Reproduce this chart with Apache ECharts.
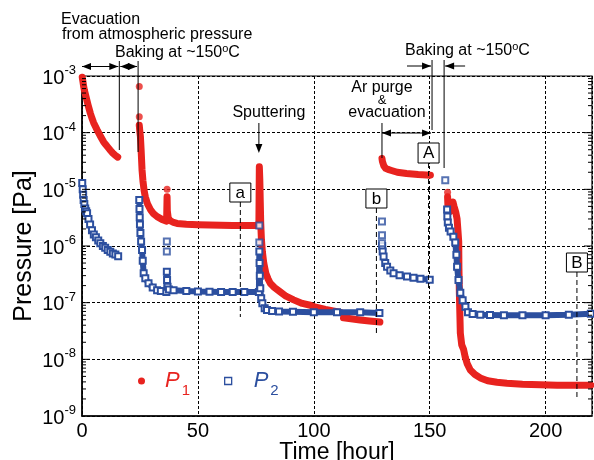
<!DOCTYPE html>
<html><head><meta charset="utf-8">
<script src="https://cdn.jsdelivr.net/npm/echarts@6/dist/echarts.min.js"></script>
<style>html,body{margin:0;padding:0;background:#fff}#c{width:594px;height:460px}</style>
</head><body><div id="c"></div>
<script>
const RED = '#e8231f', BLUE = '#2c4f9f';
const FONT = 'Liberation Sans, Arial, sans-serif';

// ---- axis ticks ----
const xTicks = [0, 50, 100, 150, 200];
const yDecades = [1e-9, 1e-8, 1e-7, 1e-6, 1e-5, 1e-4, 1e-3];
const majorTickVals = [1e-8, 1e-7, 1e-6, 1e-5, 1e-4];
const minorMultipliers = [2, 3, 4, 5, 6, 7, 8, 9];
const minorDecades = [-9, -8, -7, -6, -5, -4];

// ---- P1 (red) [time h, pressure Pa] ----
const p1Evac = [[0.1,9.5e-4],[0.4,8e-4],[0.7,6.6e-4],[1.0,5.7e-4],[1.4,4.9e-4],[1.8,4.2e-4],[2.2,3.6e-4],[2.6,3.1e-4],[3.0,2.7e-4],[3.6,2.2e-4],[4.2,1.85e-4],[5.0,1.5e-4],[5.8,1.28e-4],[6.5,1.12e-4],[7.3,9.7e-5],[8.2,8.3e-5],[9.3,6.9e-5],[10.3,6.1e-5],[11.2,5.5e-5],[12.2,4.9e-5],[13.2,4.4e-5],[14.3,4.0e-5],[15.4,3.7e-5]];
const p1Bake = [[24.7,1.35e-4],[25.0,1.0e-4],[25.2,8.5e-5],[25.5,5e-5],[25.9,2.2e-5],[26.3,1.4e-5],[26.8,9.5e-6],[27.3,7.4e-6],[28.2,5.6e-6],[29.5,4.4e-6],[30.9,3.7e-6],[32.4,3.3e-6],[34.5,2.95e-6],[36.5,2.75e-6],[36.7,7.4e-6],[36.8,4.2e-6],[37.2,3.1e-6],[38,2.8e-6],[39.5,2.6e-6],[41,2.5e-6],[45,2.42e-6],[50,2.37e-6],[55,2.34e-6],[60,2.32e-6],[65,2.3e-6],[70,2.3e-6],[74,2.3e-6],[76.3,2.3e-6],[76.5,2.5e-5],[76.7,1.5e-5],[76.9,6e-6],[77.1,2.5e-6],[77.4,1.3e-6],[77.8,8e-7],[78.4,5e-7],[79.3,3.3e-7],[80.3,2.6e-7],[81.2,2.2e-7],[83,1.85e-7],[85.5,1.55e-7],[88,1.3e-7],[91.3,1.12e-7],[95,9.7e-8],[98.5,9e-8],[100,8.5e-8],[105,7.6e-8],[110,6.9e-8],[111.5,6.7e-8]];
const p1Tail = [[112.8,5.4e-8],[116,5.2e-8],[120,4.95e-8],[124,4.75e-8],[128.5,4.55e-8]];
const p1Ar = [[129.4,3.5e-5],[129.6,3.1e-5],[130.2,2.6e-5],[131,2.35e-5],[132,2.25e-5],[133.5,2.15e-5],[136,2.0e-5],[140,1.9e-5],[145,1.83e-5],[150.3,1.78e-5]];
const p1Bake2 = [[157.7,7.4e-6],[157.9,4.5e-6],[158.5,4.0e-6],[159.6,4.3e-6],[160.0,6.0e-6],[160.5,5.0e-6],[161.2,4.0e-6],[161.8,3.0e-6],[162.2,1.8e-6],[162.5,1.2e-6],[162.6,4e-7],[162.8,1.4e-7],[163.2,2.9e-8],[163.8,1.8e-8],[164.6,1.5e-8],[165.3,1.1e-8],[166.1,8.5e-9],[167.5,6.5e-9],[169.5,5.4e-9],[171.8,4.7e-9],[175,4.2e-9],[179,3.95e-9],[183.3,3.8e-9],[190,3.65e-9],[197.7,3.55e-9],[205,3.5e-9],[212,3.5e-9],[219.5,3.5e-9]];
const p1Dots = [[24.7,6.5e-4],[24.7,1.9e-4],[36.7,1.0e-5],[157.7,8.9e-6]];

// ---- P2 (blue) ----
const p2Evac = [[0.1,1.3e-5],[0.3,1.0e-5],[0.5,8e-6],[0.7,6.5e-6],[1.0,5.5e-6],[1.4,4.6e-6],[1.8,4.1e-6],[2.2,3.8e-6],[2.8,3.0e-6],[3.5,2.4e-6],[4.3,1.9e-6],[5.1,1.6e-6],[6,1.42e-6],[7,1.25e-6],[7.9,1.12e-6],[9,1.0e-6],[10,9.3e-7],[11.1,8.5e-7],[12.2,7.9e-7],[13.3,7.4e-7],[14.4,7.1e-7],[15.6,6.6e-7]];
const p2Bake = [[24.7,6.5e-6],[24.8,4.5e-6],[24.9,3.2e-6],[25.0,2.4e-6],[25.2,1.7e-6],[25.5,1.2e-6],[25.9,8.5e-7],[26.2,5.5e-7],[26.6,3.3e-7],[27.3,2.7e-7],[28.7,2.2e-7],[30.5,1.85e-7],[32.4,1.66e-7],[34,1.6e-7],[36.4,1.55e-7],[36.6,3.5e-7],[36.7,2.5e-7],[36.9,1.9e-7],[37.5,1.7e-7],[39.5,1.66e-7],[45,1.6e-7],[50,1.57e-7],[55,1.56e-7],[60,1.55e-7],[65,1.55e-7],[70,1.55e-7],[76.3,1.55e-7],[76.5,8e-7],[76.6,5e-7],[76.7,3e-7],[76.9,1.8e-7],[77.3,1.2e-7],[77.8,9.8e-8],[78.8,8e-8],[79.8,7.4e-8],[82,7.1e-8],[85,7e-8],[91,6.9e-8],[100,6.8e-8],[110,6.8e-8],[120,6.8e-8],[128.3,6.6e-8]];
const p2B = [[129.5,1.0e-6],[129.7,8e-7],[130.1,6.5e-7],[130.8,5.0e-7],[131.6,4.3e-7],[133,3.7e-7],[134.4,3.3e-7],[137,3.05e-7],[140.2,2.9e-7],[143,2.75e-7],[146,2.65e-7],[150,2.55e-7]];
const p2Bake2 = [[157.5,4.4e-6],[157.6,3.3e-6],[157.8,2.6e-6],[158.3,2.1e-6],[159,1.8e-6],[160.2,1.45e-6],[161,1.15e-6],[161.5,7e-7],[161.8,4.3e-7],[162.4,2.5e-7],[163.2,1.5e-7],[164.2,1.1e-7],[165.4,8.5e-8],[166.5,6.8e-8],[168.5,6.3e-8],[171.8,6.1e-8],[176,6.05e-8],[182,6.0e-8],[190,6.0e-8],[200,6.0e-8],[210,6.1e-8],[219.5,6.4e-8]];
const p2Dots = [[36.6,1.2e-6],[36.6,8e-7],[76.5,2.3e-6],[76.5,1.15e-6],[129.4,2.7e-6],[129.4,1.55e-6],[129.4,1.12e-6],[156.7,1.45e-5]];

// ---- annotation times (h) ----
const tEvacEnd = 16.1, tBakeStart = 24.2, tSputter = 76.3, tArStart = 129.4, tBake2Start = 151.0, tBake2End = 156.2;
const tA = 68.3, tb = 127.0, tAA = 149.5, tB = 213.5;

const minorTickVals = [];
minorDecades.forEach(k => minorMultipliers.forEach(m => minorTickVals.push(m * Math.pow(10, k))));

function redLine(d) {
  return {name:'P1', type:'line', data:d, showSymbol:false, z:3,
    lineStyle:{color:RED, width:7, cap:'round', join:'round'}, itemStyle:{color:RED}, animation:false};
}
function blueLine(d) {
  return {name:'P2', type:'line', data:d, symbol:'emptyRect', symbolSize:6, showAllSymbol:true, z:4,
    lineStyle:{color:BLUE, width:6, cap:'round', join:'round'}, itemStyle:{color:BLUE, borderWidth:1.3}, animation:false};
}

const option = {
  animation:false,
  backgroundColor:'#fff',
  grid:{left:82, right:2, top:76, bottom:44, outerBoundsMode:'none', containLabel:false,
    show:true, borderColor:'#000', borderWidth:1.2, backgroundColor:'transparent'},
  xAxis:{type:'value', min:0, max:220, interval:50,
    axisLine:{show:true, lineStyle:{color:'#000', width:1.5}},
    axisTick:{show:false},
    splitLine:{show:true, lineStyle:{color:'#000', type:[3,2], width:1}},
    axisLabel:{color:'#000', fontSize:20, fontFamily:FONT, margin:5, showMaxLabel:false,
      formatter: v => xTicks.indexOf(v) >= 0 ? String(v) : ''},
    name:'Time [hour]', nameLocation:'middle', nameGap:25, nameMoveOverlap:false,
    nameTextStyle:{color:'#000', fontSize:23, fontFamily:FONT}},
  yAxis:{type:'log', logBase:10, min:1e-9, max:1e-3, splitNumber:6,
    axisLine:{show:true, lineStyle:{color:'#000', width:1.5}},
    axisTick:{show:false},
    splitLine:{show:true, lineStyle:{color:'#000', type:[3,2], width:1}},
    axisLabel:{margin:6, color:'#000',
      formatter: v => { const e = Math.round(Math.log10(v)); return yDecades.some(d => Math.abs(Math.log10(d) - e) < 1e-6) ? '{b|10}{s|' + e + '}' : ''; },
      rich:{b:{fontSize:20, fontFamily:FONT, color:'#000', lineHeight:24, verticalAlign:'bottom'},
            s:{fontSize:13, fontFamily:FONT, color:'#000', lineHeight:14, verticalAlign:'top'}}},
    name:'Pressure [Pa]', nameLocation:'middle', nameGap:45, nameMoveOverlap:false,
    nameTextStyle:{color:'#000', fontSize:25, fontFamily:FONT}},
  legend:{left:133, top:365, itemGap:34, itemWidth:7, itemHeight:7, selectedMode:false,
    data:[{name:'P1', icon:'circle', itemStyle:{color:RED}},
          {name:'P2', icon:'rect', itemStyle:{color:'#fff', borderColor:BLUE, borderWidth:1.3}}],
    formatter: n => n === 'P1' ? '{p1|P}{s1|1}' : '{p2|P}{s2|2}',
    textStyle:{rich:{
      p1:{fontSize:22, fontStyle:'italic', fontFamily:FONT, color:RED, lineHeight:34, verticalAlign:'middle', padding:[0,0,0,15]},
      s1:{fontSize:15, fontFamily:FONT, color:RED, lineHeight:15, verticalAlign:'bottom', padding:[0,0,0,2]},
      p2:{fontSize:22, fontStyle:'italic', fontFamily:FONT, color:BLUE, lineHeight:34, verticalAlign:'middle', padding:[0,0,0,17]},
      s2:{fontSize:15, fontFamily:FONT, color:BLUE, lineHeight:15, verticalAlign:'bottom', padding:[0,0,0,2]}}}},
  series:[
    redLine(p1Evac), redLine(p1Bake), redLine(p1Tail), redLine(p1Ar), redLine(p1Bake2),
    {name:'P1', type:'scatter', data:p1Dots, symbol:'circle', symbolSize:7, itemStyle:{color:RED}, z:3},
    blueLine(p2Evac), blueLine(p2Bake), blueLine(p2B), blueLine(p2Bake2),
    {name:'P2', type:'scatter', data:p2Dots, symbol:'emptyRect', symbolSize:6, itemStyle:{color:BLUE, borderWidth:1.3}, z:4},
    {name:'ticks', type:'custom', coordinateSystem:'cartesian2d', silent:true, z:5, clip:false,
      data: minorTickVals.map(v => [0, v, 4]).concat(majorTickVals.map(v => [0, v, 8])),
      encode:{x:0, y:1},
      renderItem:(params, api) => {
        const v = api.value(1), len = api.value(2);
        const L = api.coord([0, v]), R = api.coord([220, v]);
        return {type:'group', children:[
          {type:'line', shape:{x1:L[0], y1:L[1], x2:L[0] + len, y2:L[1]}, style:{stroke:'#000', lineWidth:1}},
          {type:'line', shape:{x1:R[0] - len, y1:R[1], x2:R[0], y2:R[1]}, style:{stroke:'#000', lineWidth:1}}]};
      }}
  ]
};

const chart = echarts.init(document.getElementById('c'), null, {renderer:'canvas'});
chart.setOption(option);

const X = t => chart.convertToPixel({xAxisIndex:0}, t);
const g = [];
function seg(x1, y1, x2, y2, dash) {
  g.push({type:'line', silent:true, z:10, shape:{x1, y1, x2, y2}, style:{stroke:'#000', lineWidth:1, lineDash:dash || null}});
}
function head(x, y, dir) {
  const L = 9, W = 3.5; let pts;
  if (dir === 'r') pts = [[x, y], [x - L, y - W], [x - L, y + W]];
  if (dir === 'l') pts = [[x, y], [x + L, y - W], [x + L, y + W]];
  if (dir === 'd') pts = [[x, y], [x - W, y - L], [x + W, y - L]];
  g.push({type:'polygon', silent:true, z:10, shape:{points:pts}, style:{fill:'#000'}});
}
function txt(x, y, s, opt) {
  g.push({type:'text', silent:true, z:11, style:Object.assign({text:s, x, y, fill:'#000', fontSize:16, fontFamily:FONT, align:'left', verticalAlign:'middle'}, opt || {})});
}
function box(cx, y1, y2, label, lineEnd) {
  g.push({type:'rect', silent:true, z:10, shape:{x:cx - 10.5, y:y1, width:21, height:y2 - y1}, style:{fill:'#fff', stroke:'#000', lineWidth:1}});
  txt(cx, (y1 + y2) / 2 + 0.5, label, {align:'center', fontSize:17});
  seg(cx, y2, cx, lineEnd, [5, 3]);
}
const degRich = {t:{fontSize:16, fontFamily:FONT, verticalAlign:'bottom', lineHeight:18}, o:{fontSize:11, fontFamily:FONT, verticalAlign:'top', lineHeight:10}};

// left annotations
txt(61, 20, 'Evacuation');
txt(62, 35, 'from atmospheric pressure');
txt(115, 52, '{t|Baking at ~150}{o|o}{t|C}', {rich:degRich});
const xe = X(tEvacEnd), xb = X(tBakeStart), x0 = X(0);
seg(x0, 66.5, xe - 1, 66.5); head(x0, 66.5, 'l'); head(xe - 1, 66.5, 'r');
seg(xe, 61, xe, 150);
seg(xe + 1, 66.5, xb - 1, 66.5); head(xe + 1, 66.5, 'l'); head(xb - 1, 66.5, 'r');
seg(xb, 61, xb, 152);
// sputtering
const xs = X(tSputter);
txt(xs + 10, 113, 'Sputtering', {align:'center'});
seg(xs, 123, xs, 150); head(xs, 153, 'd');
// Ar purge
const xar = X(tArStart), xb2s = X(tBake2Start), xb2e = X(tBake2End);
txt(xar, 88, 'Ar purge', {align:'center'});
txt(xar, 100.5, '&', {align:'center', fontSize:13});
txt(xar + 5, 113, 'evacuation', {align:'center'});
seg(xar, 123, xar, 158);
seg(xar, 133, xb2s - 1, 133); head(xar, 133, 'l'); head(xb2s - 1, 133, 'r');
// right baking
txt(405, 50, '{t|Baking at ~150}{o|o}{t|C}', {rich:degRich});
seg(xb2s, 60, xb2s, 130);
seg(xb2e, 60, xb2e, 168);
seg(407, 66, xb2s - 1, 66); head(xb2s - 1, 66, 'r');
seg(xb2e + 1, 66, xb2e + 21, 66); head(xb2e + 1, 66, 'l');
// boxes
box(X(tA), 183, 202, 'a', 317);
box(X(tb), 189, 208, 'b', 333);
box(X(tAA), 143, 163, 'A', 290);
box(X(tB), 253, 272, 'B', 398);

chart.setOption({graphic:g});
</script></body></html>
